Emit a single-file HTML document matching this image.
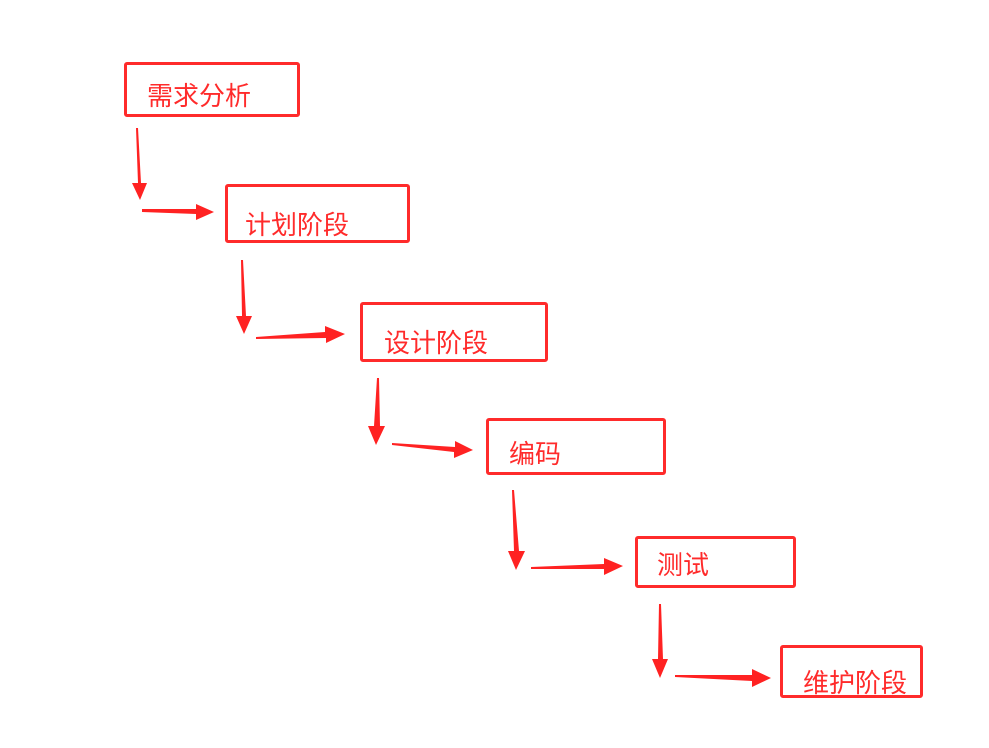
<!DOCTYPE html>
<html><head><meta charset="utf-8"><style>
body{margin:0;background:#fff;}
.w{position:relative;width:989px;height:748px;overflow:hidden;font-family:"Liberation Sans","Noto Sans CJK SC",sans-serif;}
.b{position:absolute;border:3px solid #ff2b2b;border-radius:3px;box-sizing:border-box;}
.t{position:absolute;color:#ff2b2b;font-size:26px;line-height:26px;white-space:nowrap;}
svg{position:absolute;left:0;top:0;}
</style></head><body><div class="w">
<div class="b" style="left:124px;top:62px;width:176px;height:55px"></div>
<div class="t" style="left:147px;top:83px">需求分析</div>
<div class="b" style="left:225px;top:184px;width:185px;height:59px"></div>
<div class="t" style="left:245px;top:212px">计划阶段</div>
<div class="b" style="left:360px;top:302px;width:188px;height:60px"></div>
<div class="t" style="left:384px;top:330px">设计阶段</div>
<div class="b" style="left:486px;top:418px;width:180px;height:57px"></div>
<div class="t" style="left:509px;top:441px">编码</div>
<div class="b" style="left:635px;top:536px;width:161px;height:52px"></div>
<div class="t" style="left:657px;top:552px">测试</div>
<div class="b" style="left:780px;top:645px;width:143px;height:53px"></div>
<div class="t" style="left:803px;top:670px">维护阶段</div>
<svg width="989" height="748" viewBox="0 0 989 748" fill="#ff2222">
<polygon points="136,128 138,128 141,183 147,183 140,200 132,183 138,183"/>
<polygon points="241,260 243,260 246,316 252,316 244,334 236,316 242,316"/>
<polygon points="377,378 379,378 380,426 385,426 376,445 368,426 374,426"/>
<polygon points="512,490 514,490 519,551 525,551 516,570 508,551 514,551"/>
<polygon points="659,604 661,604 663,659 668,659 660,678 652,659 658,659"/>
<polygon points="142,209 142,212 196,214 196,220 214,212 196,204 196,209"/>
<polygon points="256,337 256,339 326,338 326,343 345,334 325,326 325,332"/>
<polygon points="392,443 392,445 454,452 454,458 473,450 455,441 455,447"/>
<polygon points="531,567 531,569 604,569 604,575 623,566 604,558 604,564"/>
<polygon points="675,675 675,677 752,681 752,687 771,678 752,669 752,675"/>
</svg>
</div></body></html>
